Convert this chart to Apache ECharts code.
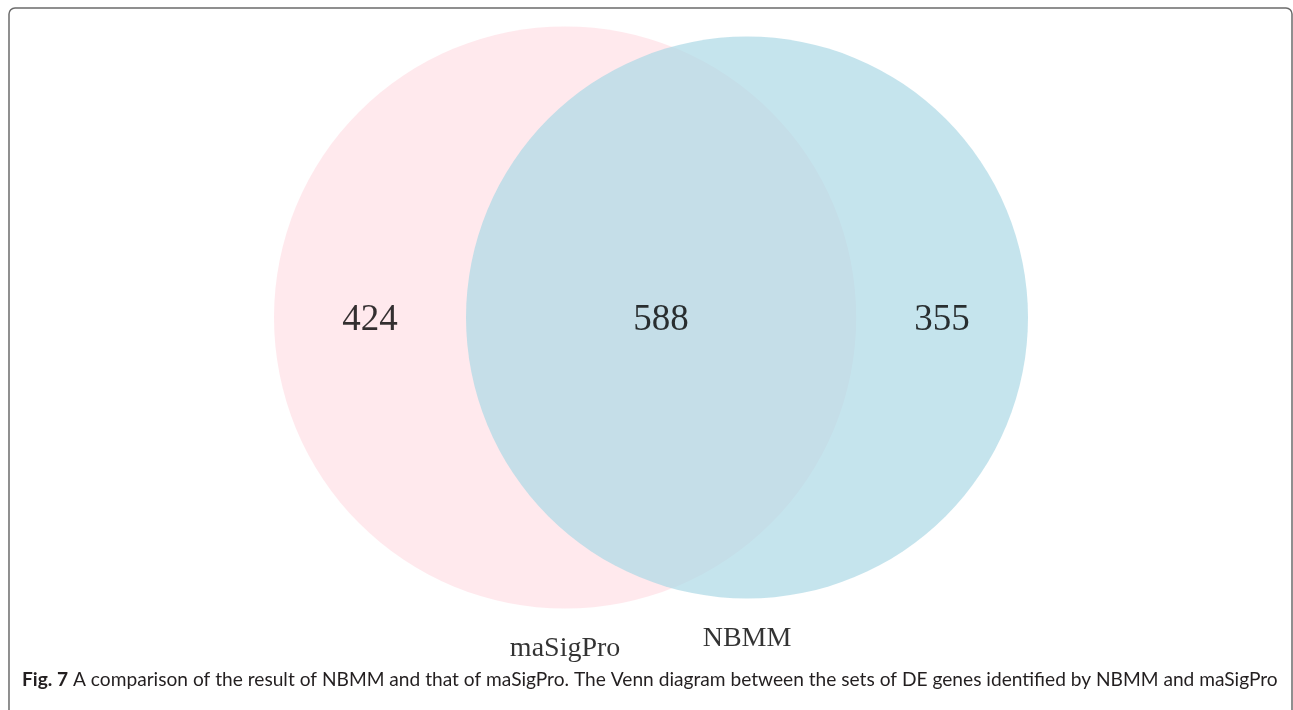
<!DOCTYPE html>
<html>
<head>
<meta charset="utf-8">
<title>Venn NBMM vs maSigPro</title>
<script src="https://cdn.jsdelivr.net/npm/echarts@6/dist/echarts.min.js"></script>
<style>
  html, body { margin: 0; padding: 0; background: #fff; }
  #chart { width: 1293px; height: 710px; }
</style>
</head>
<body>
<div id="chart"></div>
<script>
// set names and region counts
const setNames = ['maSigPro', 'NBMM']
const onlyCounts = [424, 355]     // maSigPro only, NBMM only
const sharedCount = 588
const setColors = ['rgba(255,192,203,0.35)', 'rgba(173,216,230,0.7)']
const captionBold = 'Fig. 7'
const captionText = ' A comparison of the result of NBMM and that of maSigPro. The Venn diagram between the sets of DE genes identified by NBMM and maSigPro'

// area proportional venn layout
const totals = [onlyCounts[0] + sharedCount, onlyCounts[1] + sharedCount]
const r1 = Math.sqrt(totals[0] / Math.PI)
const r2 = Math.sqrt(totals[1] / Math.PI)

function lensArea (d) {
  if (d >= r1 + r2) return 0
  if (d <= Math.abs(r1 - r2)) return Math.PI * Math.min(r1, r2) ** 2
  let a1 = r1 * r1 * Math.acos((d * d + r1 * r1 - r2 * r2) / (2 * d * r1))
  let a2 = r2 * r2 * Math.acos((d * d + r2 * r2 - r1 * r1) / (2 * d * r2))
  let k = 0.5 * Math.sqrt((-d + r1 + r2) * (d + r1 - r2) * (d - r1 + r2) * (d + r1 + r2))
  return a1 + a2 - k
}
// bisection for the center distance
let lo = Math.abs(r1 - r2), hi = r1 + r2
for (let i = 0; i < 80; i++) {
  let mid = (lo + hi) / 2
  if (lensArea(mid) > sharedCount) lo = mid
  else hi = mid
}
const dist = (lo + hi) / 2

const circles = [[0, 0, r1, 0], [dist, 0, r2, 1]]
const regionPoints = [
  [(-r1 + dist - r2) / 2, 0, onlyCounts[0]],
  [(dist - r2 + r1) / 2, 0, sharedCount],
  [(r1 + dist + r2) / 2, 0, onlyCounts[1]]
]

// pixel box of the union of both circles
const boxLeft = 274, boxWidth = 754, centerY = 317.5
const scale = boxWidth / (r1 + dist + r2)
const labelGap = 40 / scale
const namePoints = [
  [0, -r1 - labelGap, setNames[0]],
  [dist, -r2 - labelGap, setNames[1]]
]

let myChart = echarts.init(document.getElementById('chart'))
let option = {
  animation: false,
  backgroundColor: '#fff',
  grid: {
    left: boxLeft,
    width: boxWidth,
    top: centerY - r1 * scale,
    height: 2 * r1 * scale
  },
  xAxis: { type: 'value', min: -r1, max: dist + r2, show: false },
  yAxis: { type: 'value', min: -r1, max: r1, show: false },
  graphic: [
    {
      type: 'rect',
      shape: { x: 9, y: 8, width: 1283, height: 760, r: 6 },
      style: { fill: 'none', stroke: '#6b6b6b', lineWidth: 1.5 },
      z: 100
    },
    {
      type: 'text',
      left: 22,
      top: 670,
      style: {
        text: '{b|' + captionBold + '}{n|' + captionText + '}',
        rich: {
          b: { fontFamily: 'Lato', fontWeight: 'bold', fontSize: 19.15, fill: '#231f20' },
          n: { fontFamily: 'Lato', fontSize: 19.15, fill: '#231f20' }
        }
      },
      z: 100
    }
  ],
  series: [
    {
      type: 'custom',
      coordinateSystem: 'cartesian2d',
      clip: false,
      encode: { x: 0, y: 1 },
      data: circles,
      renderItem: function (params, api) {
        let c = api.coord([api.value(0), api.value(1)])
        let rad = api.size([api.value(2), 0])[0]
        return {
          type: 'circle',
          shape: { cx: c[0], cy: c[1], r: rad },
          style: { fill: setColors[api.value(3)] }
        }
      }
    },
    {
      type: 'scatter',
      symbolSize: 0,
      clip: false,
      data: regionPoints,
      label: {
        show: true,
        position: 'inside',
        offset: [0, 3],
        formatter: (p) => String(p.value[2]),
        fontFamily: 'Liberation Serif',
        fontSize: 37,
        color: '#000'
      },
      z: 5
    },
    {
      type: 'scatter',
      symbolSize: 0,
      clip: false,
      data: namePoints,
      label: {
        show: true,
        position: 'inside',
        formatter: (p) => p.value[2],
        fontFamily: 'Liberation Serif',
        fontSize: 28,
        color: '#000'
      },
      z: 5
    }
  ]
}
myChart.setOption(option)
</script>
</body>
</html>
